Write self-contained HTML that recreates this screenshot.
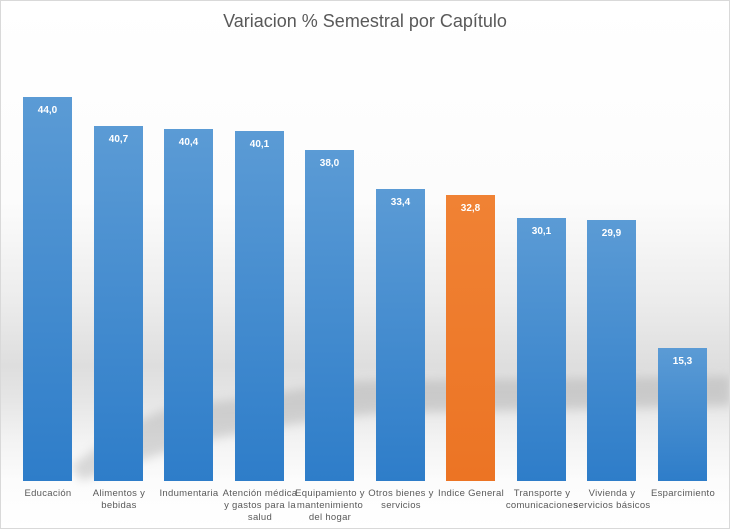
<!DOCTYPE html>
<html><head><meta charset="utf-8"><style>
body{margin:0}
#c{position:relative;width:728px;height:527px;border:1px solid #d9d9d9;overflow:hidden;font-family:"Liberation Sans",sans-serif;
background:linear-gradient(to bottom,#fff 0px,#fcfcfc 200px,#ececec 300px,#dedede 365px,#e6e6e6 400px,#f3f3f3 440px,#fcfcfc 480px,#fff 527px)}
.t{position:absolute;top:10px;left:0;width:728px;text-align:center;font-size:18px;color:#595959}
.b{position:absolute;width:49px;bottom:47px;background:linear-gradient(to bottom,#5b9bd5,#2e7dc9)}
.o{background:linear-gradient(to bottom,#f08234,#ec7424)}
.v{position:absolute;top:8px;width:100%;text-align:center;color:#fff;font-size:10px;font-weight:bold}
.l{position:absolute;top:487px;width:84px;text-align:center;font-size:9.5px;letter-spacing:0.3px;line-height:12px;color:#595959}
</style></head><body><div id="c">
<svg width="728" height="527" style="position:absolute;left:0;top:0"><defs><filter id="f"><feGaussianBlur stdDeviation="5"/></filter></defs>
<path d="M70 465 C120 430 150 405 200 402 C260 398 300 385 360 380 L730 375 L730 405 L380 412 C300 420 250 430 200 440 C150 455 110 470 80 480 Z" fill="#9a9a9a" opacity="0.35" filter="url(#f)"/></svg>
<div class="t">Variacion % Semestral por Capítulo</div>
<div class="b" style="left:22px;top:96px"><div class="v">44,0</div></div>
<div class="b" style="left:93px;top:125px"><div class="v">40,7</div></div>
<div class="b" style="left:163px;top:128px"><div class="v">40,4</div></div>
<div class="b" style="left:234px;top:130px"><div class="v">40,1</div></div>
<div class="b" style="left:304px;top:149px"><div class="v">38,0</div></div>
<div class="b" style="left:375px;top:188px"><div class="v">33,4</div></div>
<div class="b o" style="left:445px;top:194px"><div class="v">32,8</div></div>
<div class="b" style="left:516px;top:217px"><div class="v">30,1</div></div>
<div class="b" style="left:586px;top:219px"><div class="v">29,9</div></div>
<div class="b" style="left:657px;top:347px"><div class="v">15,3</div></div>
<div class="l" style="left:5px">Educación</div>
<div class="l" style="left:76px">Alimentos y<br>bebidas</div>
<div class="l" style="left:146px">Indumentaria</div>
<div class="l" style="left:217px">Atención médica<br>y gastos para la<br>salud</div>
<div class="l" style="left:287px">Equipamiento y<br>mantenimiento<br>del hogar</div>
<div class="l" style="left:358px">Otros bienes y<br>servicios</div>
<div class="l" style="left:428px">Indice General</div>
<div class="l" style="left:499px">Transporte y<br>comunicaciones</div>
<div class="l" style="left:569px">Vivienda y<br>servicios básicos</div>
<div class="l" style="left:640px">Esparcimiento</div>
</div></body></html>
